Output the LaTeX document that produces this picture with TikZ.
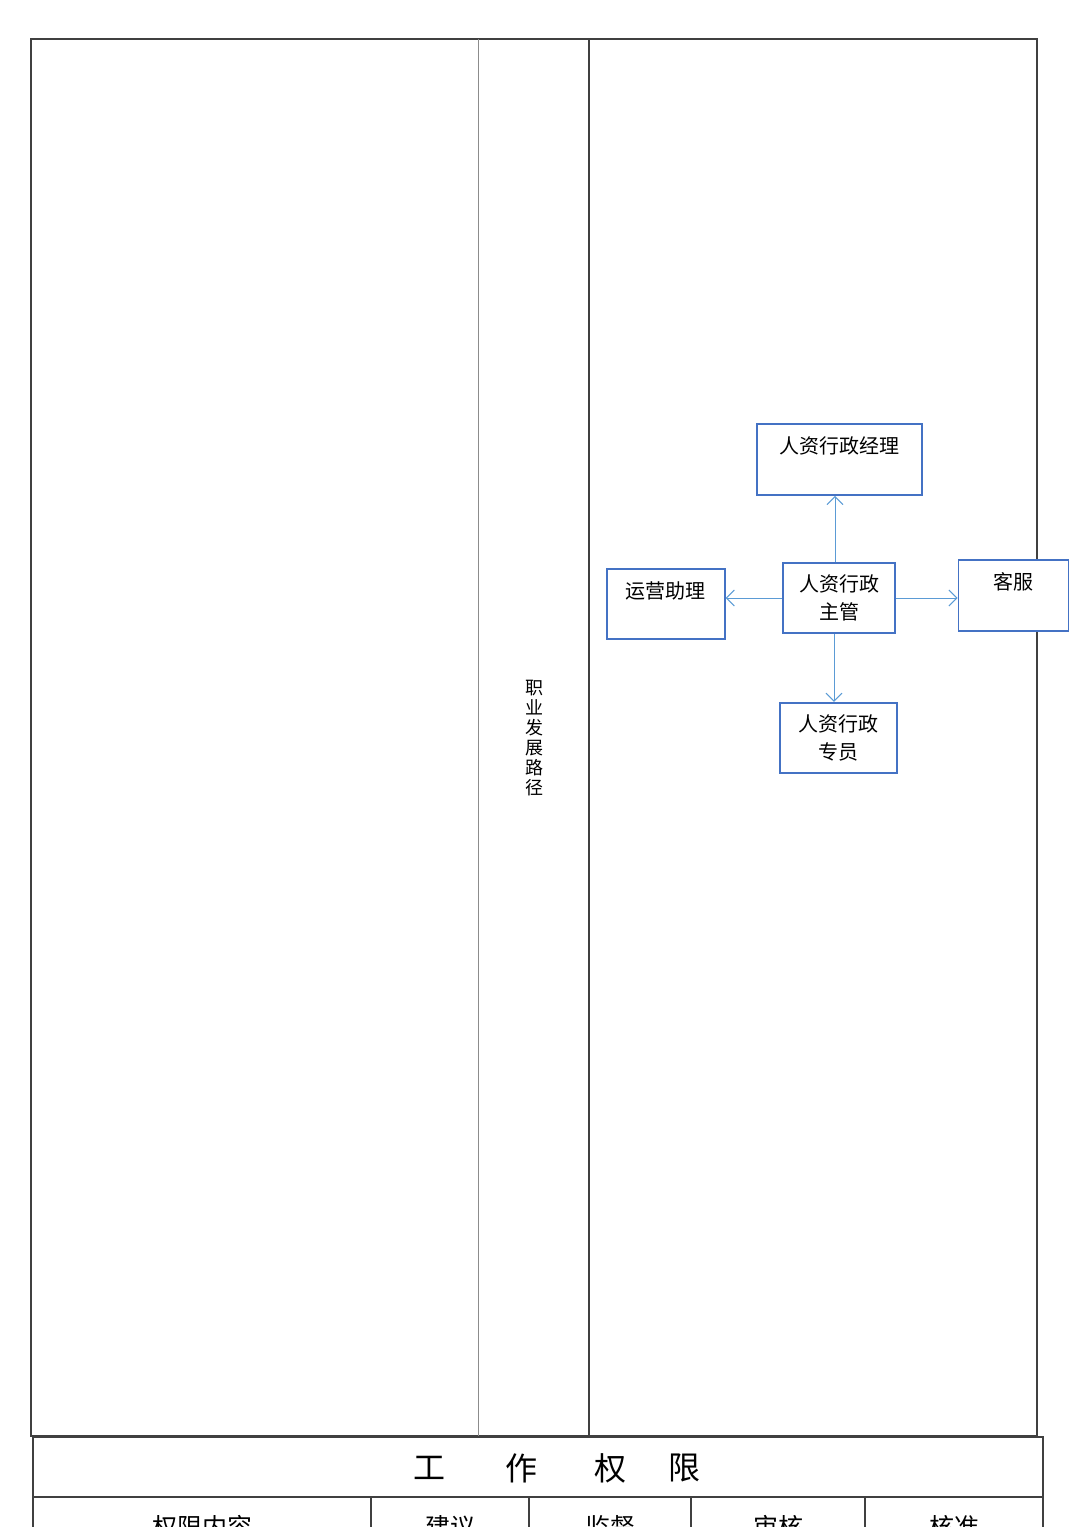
\documentclass[tikz,border=0pt]{standalone}
\usepackage{fontspec}
\setmainfont{Noto Sans CJK SC}
\usetikzlibrary{arrows.meta, positioning}
\definecolor{boxblue}{RGB}{68,114,196}
\definecolor{linkblue}{RGB}{91,155,213}

\begin{document}
\begin{tikzpicture}[
    x=0.5pt, y=-0.5pt,
    frame/.style={draw=black!75, line width=0.65pt},
    thinrule/.style={draw=black!45, line width=0.5pt},
    post/.style={rectangle, draw=boxblue, fill=white, line width=0.9pt, align=center, inner sep=0pt, font=\fontsize{10}{14}\selectfont},
    arrow/.style={-{Straight Barb[length=4pt, width=8pt]}, draw=linkblue, line width=0.5pt},
    cell/.style={font=\fontsize{12.5}{14}\selectfont, inner sep=0pt}
]
    \useasboundingbox (0,0) rectangle (1080,1527);

    % Frame
    \draw[frame] (31,39) rectangle (1037,1436);
    \draw[thinrule] (478,39) -- (478,1436);
    \draw[frame] (589,39) -- (589,1436);
    \node[font=\fontsize{9}{10}\selectfont, align=center, inner sep=0pt] (pathtitle) at (534,738) {职\\业\\发\\展\\路\\径};

    % Nodes
    \node[post, minimum width=56.3pt, minimum height=35pt] (supervisor) at (839,598) {人资行政\\主管};
    \node[post, minimum width=82.5pt, minimum height=35.5pt] (manager) at (839.2,459.5) {人资行政经理\\\mbox{}};
    \node[post, minimum width=59pt, minimum height=35pt] (assistant) at (665.7,604) {运营助理\\\mbox{}};
    \node[post, minimum width=55pt, minimum height=35.3pt] (service) at (1013.5,595.3) {客服\\\mbox{}};
    \node[post, minimum width=58.3pt, minimum height=35.3pt] (specialist) at (838.3,738) {人资行政\\专员};

    % Arrows
    \draw[arrow] (supervisor.north) ++(-4,0) coordinate (s1) -- (s1 |- manager.south);
    \draw[arrow] (supervisor.west |- 0,598) coordinate (s2) -- (s2 -| assistant.east);
    \draw[arrow] (supervisor.east |- 0,598) coordinate (s3) -- (s3 -| service.west);
    \draw[arrow] (supervisor.south) ++(-5,0) coordinate (s4) -- (s4 |- specialist.north);

    % Authority table
    \draw[frame] (33,1437) rectangle (1043,1560);
    \draw[frame] (33,1497) -- (1043,1497);
    \foreach \cx in {371,529,691,865}
        \draw[frame] (\cx,1497) -- (\cx,1560);
    \foreach \ch/\px [count=\i] in {工/429,作/521,权/610,限/684}
        \node[font=\fontsize{16}{16}\selectfont, inner sep=0pt] (title\i) at (\px,1468) {\ch};
    \node[cell] (content) at (202,1527) {权限内容};
    \node[cell] (propose) at (450,1527) {建议};
    \node[cell] (supervise) at (610,1527) {监督};
    \node[cell] (review) at (778,1527) {审核};
    \node[cell] (approve) at (954,1527) {核准};
\end{tikzpicture}
\end{document}
